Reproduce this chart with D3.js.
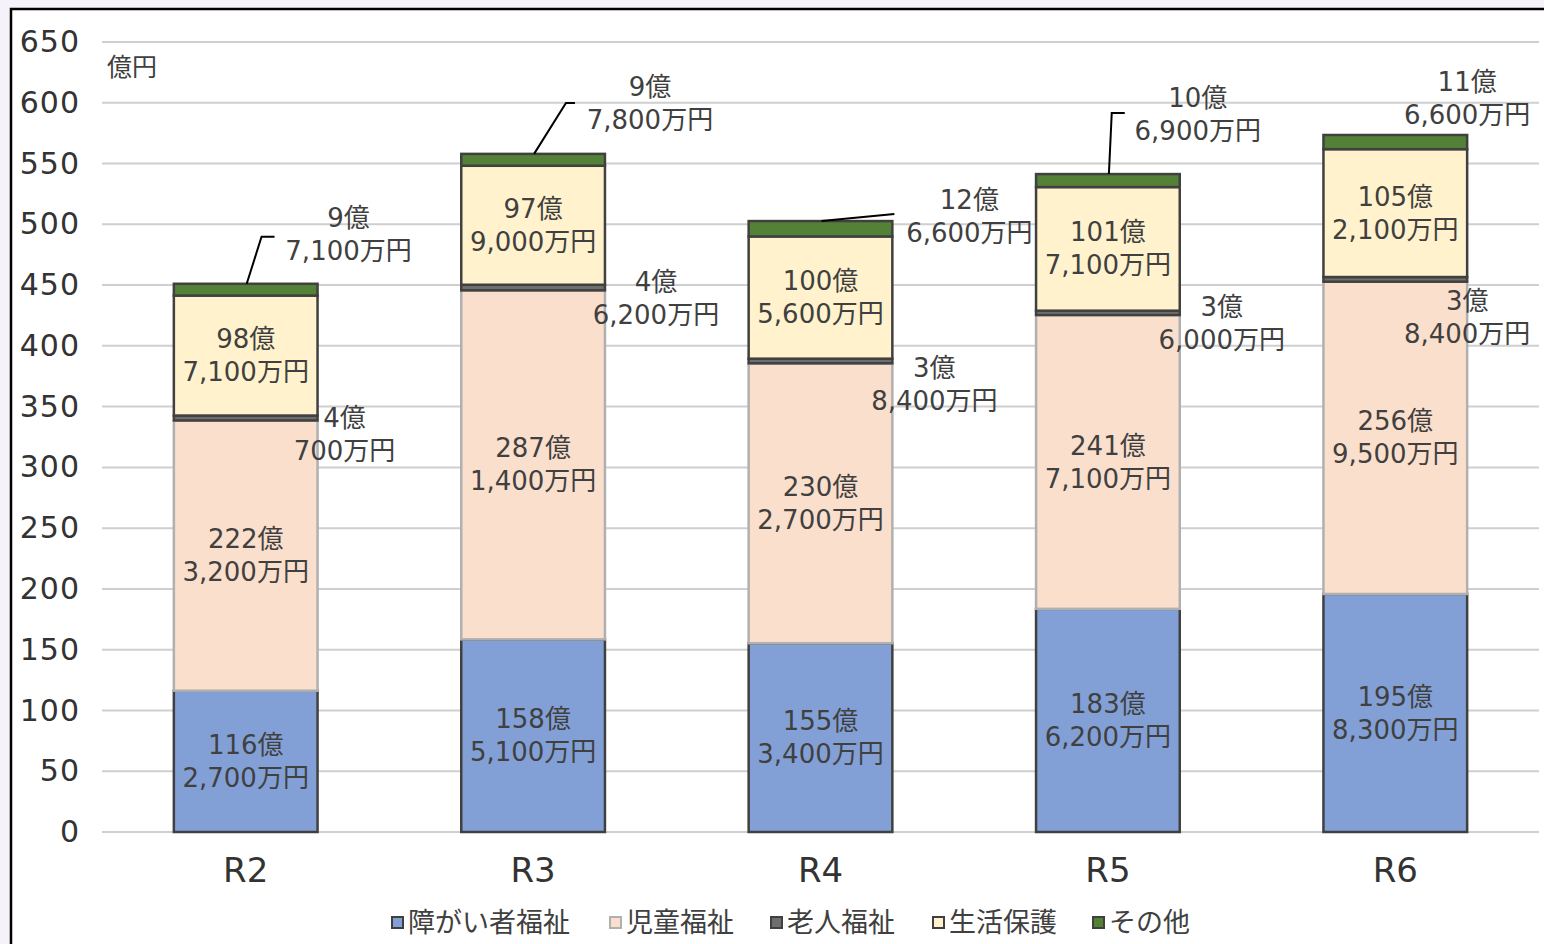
<!DOCTYPE html>
<html>
<head>
<meta charset="utf-8">
<script src="https://cdn.jsdelivr.net/npm/d3@7"></script>
<style>
  html, body { margin: 0; padding: 0; background: #f5f2fa; }
  svg { display: block; }
  text { font-family: "DejaVu Sans", "Noto Sans CJK JP", sans-serif; }
</style>
</head>
<body>
<div id="chart"></div>
<script>
// Values in 万円 (10,000 yen)
let categories = ['R2', 'R3', 'R4', 'R5', 'R6'];
let seriesNames = ['障がい者福祉', '児童福祉', '老人福祉', '生活保護', 'その他'];
let disability = [1162700, 1585100, 1553400, 1836200, 1958300];
let children = [2223200, 2871400, 2302700, 2417100, 2569500];
let elderly = [40700, 46200, 38400, 36000, 38400];
let welfare = [987100, 979000, 1005600, 1017100, 1052100];
let other = [97100, 97800, 126600, 106900, 116600];
let yTicks = [0, 50, 100, 150, 200, 250, 300, 350, 400, 450, 500, 550, 600, 650];

// Callout placement for the thin segments (pixels, relative to bar edge / segment)
let elderlyCallout = [[27, 0], [51, -6], [42, 7], [42, -6], [0, 22]];
let otherCallout = [[31, -66], [45, -67], [77, -21], [18, -76], [0, -53]];
// leader line: [elbow dx, end dx, dy] from label anchor, null = no leader
let otherLeader = [[-87, -74, 19], [-84, -75, 16], [-75, -75, 14], [-86, -73, 15], null];

let colors = ['#82a0d6', '#fadfcc', '#6e6e6e', '#fff2cc', '#538135'];
let strokes = ['#404040', '#b0b0b0', '#404040', '#404040', '#404040'];

let width = 1544, height = 944;
let svg = d3.select('#chart').append('svg')
    .attr('width', width)
    .attr('height', height);

// white panel with black frame on top and left
svg.append('rect')
    .attr('x', 11).attr('y', 9)
    .attr('width', width).attr('height', height)
    .attr('fill', '#ffffff')
    .attr('stroke', '#000')
    .attr('stroke-width', 2.5);

let x = d3.scaleBand()
    .domain(categories)
    .range([102, 1539])
    .paddingInner(0.5)
    .paddingOuter(0.25);

let y = d3.scaleLinear()
    .domain([0, 650])
    .range([832, 42]);

// gridlines
svg.append('g')
    .selectAll('line')
    .data(yTicks)
    .enter()
    .append('line')
        .attr('x1', 102)
        .attr('x2', 1539)
        .attr('y1', d => y(d))
        .attr('y2', d => y(d))
        .attr('stroke', '#cfcfcf')
        .attr('stroke-width', 2);

// y axis labels
let yAxis = svg.append('g')
    .attr('transform', 'translate(80,0)')
    .call(d3.axisLeft(y).tickValues(yTicks).tickSize(0).tickPadding(0));
yAxis.select('.domain').remove();
yAxis.selectAll('text')
    .attr('font-size', 30)
    .attr('fill', '#333')
    .attr('letter-spacing', 1)
    .attr('font-family', '"DejaVu Sans", sans-serif');

svg.append('text')
    .attr('x', 107)
    .attr('y', 76)
    .attr('font-size', 25)
    .attr('fill', '#404040')
    .text('億円');

// x axis labels
let xAxis = svg.append('g')
    .attr('transform', 'translate(0,858)')
    .call(d3.axisBottom(x).tickSize(0).tickPadding(0));
xAxis.select('.domain').remove();
xAxis.selectAll('text')
    .attr('font-size', 34)
    .attr('fill', '#333')
    .attr('dy', '0.71em');

// stack
let table = categories.map((c, i) => ({
    cat: c,
    s0: disability[i], s1: children[i], s2: elderly[i], s3: welfare[i], s4: other[i]
}));
let stack = d3.stack().keys(['s0', 's1', 's2', 's3', 's4'])
    .value((d, k) => d[k] / 10000);
let layers = stack(table);

layers.forEach(function(layer, li) {
    svg.append('g')
        .selectAll('rect')
        .data(layer)
        .enter()
        .append('rect')
            .attr('x', d => x(d.data.cat))
            .attr('width', x.bandwidth())
            .attr('y', d => y(d[1]))
            .attr('height', d => y(d[0]) - y(d[1]))
            .attr('fill', colors[li])
            .attr('stroke', strokes[li])
            .attr('stroke-width', 2.5);
});

function oku(v) {
    return Math.floor(v / 10000) + '億';
}
function man(v) {
    return d3.format(',')(v % 10000) + '万円';
}

/**
 * Draws a two line value label centered on (cx, cy1) for the first line.
 */
function twoLine(cx, cy1, v) {
    let t = svg.append('text')
        .attr('text-anchor', 'middle')
        .attr('font-size', 26)
        .attr('fill', '#404040');
    t.append('tspan').attr('x', cx).attr('y', cy1).attr('dy', '0.35em').text(oku(v));
    t.append('tspan').attr('x', cx).attr('y', cy1 + 33).attr('dy', '0.35em').text(man(v));
}

let seriesValues = [disability, children, elderly, welfare, other];
layers.forEach(function(layer, li) {
    layer.forEach(function(d, i) {
        let v = seriesValues[li][i];
        let cx = x(d.data.cat) + x.bandwidth() / 2;
        let right = x(d.data.cat) + x.bandwidth();
        let mid = (y(d[0]) + y(d[1])) / 2;
        if (li === 2) {
            twoLine(right + elderlyCallout[i][0], mid + elderlyCallout[i][1], v);
        } else if (li === 4) {
            let top = y(d[1]);
            let lx = right + otherCallout[i][0];
            let ly = top + otherCallout[i][1];
            twoLine(lx, ly, v);
            let ld = otherLeader[i];
            if (ld) {
                svg.append('polyline')
                    .attr('points', [[cx + 1, top], [lx + ld[0], ly + ld[2]], [lx + ld[1], ly + ld[2]]].join(' '))
                    .attr('fill', 'none')
                    .attr('stroke', '#000')
                    .attr('stroke-width', 2);
            }
        } else {
            twoLine(cx, mid - 16.5, v);
        }
    });
});

// legend
let legendX = [392, 610, 771, 933, 1093];
let legend = svg.append('g')
    .selectAll('g')
    .data(seriesNames)
    .enter()
    .append('g')
        .attr('transform', (d, i) => 'translate(' + legendX[i] + ',923)');
legend.append('rect')
    .attr('x', 0).attr('y', -6)
    .attr('width', 11).attr('height', 11)
    .attr('fill', (d, i) => colors[i])
    .attr('stroke', (d, i) => i === 1 ? '#b0b0b0' : '#404040')
    .attr('stroke-width', 2);
legend.append('text')
    .attr('x', 16)
    .attr('y', 0)
    .attr('dy', '0.35em')
    .attr('font-size', 27)
    .attr('fill', '#404040')
    .text(d => d);
</script>
</body>
</html>
